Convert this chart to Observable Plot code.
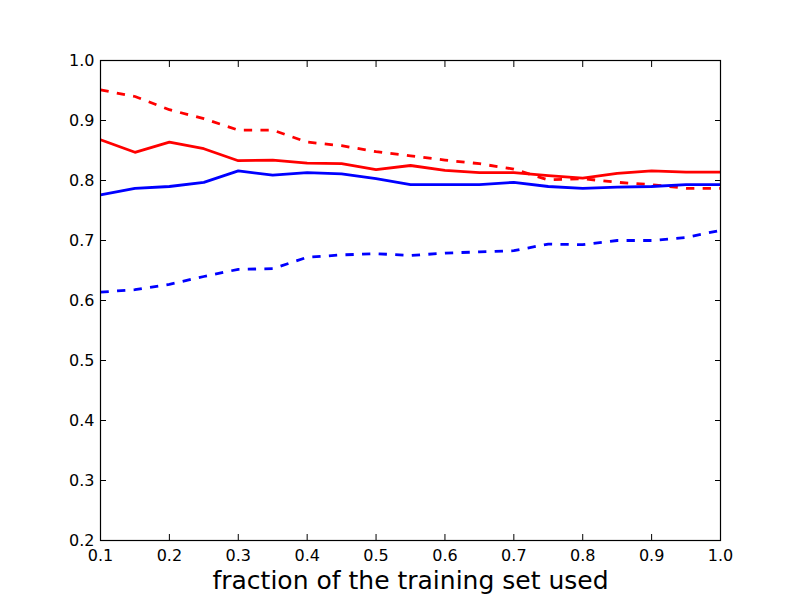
<!DOCTYPE html>
<html>
<head>
<meta charset="utf-8">
<script src="https://cdn.jsdelivr.net/npm/d3@7"></script>
<script src="https://cdn.jsdelivr.net/npm/@observablehq/plot@0.6"></script>
<style>
  html, body { margin: 0; padding: 0; background: #fff; }
  svg { display: block; }
</style>
</head>
<body>
<div id="chart"></div>
<script>
const fractions = [0.1, 0.15, 0.2, 0.25, 0.3, 0.35, 0.4, 0.45, 0.5, 0.55, 0.6, 0.65, 0.7, 0.75, 0.8, 0.85, 0.9, 0.95, 1.0];
const redDashed = [0.951, 0.940, 0.918, 0.903, 0.884, 0.884, 0.864, 0.858, 0.848, 0.841, 0.834, 0.828, 0.819, 0.801, 0.803, 0.797, 0.793, 0.787, 0.787];
const redSolid = [0.868, 0.847, 0.864, 0.853, 0.833, 0.834, 0.829, 0.828, 0.818, 0.825, 0.817, 0.813, 0.813, 0.808, 0.804, 0.812, 0.816, 0.814, 0.814];
const blueSolid = [0.776, 0.787, 0.790, 0.797, 0.816, 0.809, 0.813, 0.811, 0.803, 0.793, 0.793, 0.793, 0.797, 0.790, 0.787, 0.789, 0.790, 0.793, 0.793];
const blueDashed = [0.614, 0.618, 0.627, 0.640, 0.652, 0.653, 0.672, 0.676, 0.678, 0.675, 0.679, 0.681, 0.683, 0.694, 0.693, 0.700, 0.700, 0.705, 0.717];
const xTicks = [0.1, 0.2, 0.3, 0.4, 0.5, 0.6, 0.7, 0.8, 0.9, 1.0];
const yTicks = [0.2, 0.3, 0.4, 0.5, 0.6, 0.7, 0.8, 0.9, 1.0];
const xLabel = "fraction of the training set used";

const series = [
  {name: "redDashed", values: redDashed, color: "#ff0000", dash: "8.3,8.3"},
  {name: "redSolid", values: redSolid, color: "#ff0000", dash: null},
  {name: "blueSolid", values: blueSolid, color: "#0000ff", dash: null},
  {name: "blueDashed", values: blueDashed, color: "#0000ff", dash: "8.3,8.3"}
];

const fmt = d3.format(".1f");
const tickLen = 6;
const tickFont = 16;

const chart = Plot.plot({
  width: 800,
  height: 600,
  marginLeft: 100,
  marginRight: 80,
  marginTop: 60,
  marginBottom: 60,
  style: {fontFamily: "'DejaVu Sans'", fontSize: "16px", color: "black", background: "white"},
  x: {domain: [0.1, 1.0]},
  y: {domain: [0.2, 1.0]},
  marks: [
    ...series.map(s => Plot.line(s.values.map((v, i) => ({x: fractions[i], y: v})), {
      x: "x", y: "y", stroke: s.color, strokeWidth: 2.8, strokeDasharray: s.dash, strokeLinejoin: "round", strokeLinecap: "butt"
    })),
    Plot.frame({stroke: "black", strokeWidth: 1.2}),
    Plot.axisX(xTicks, {anchor: "bottom", tickSize: -tickLen, tickPadding: tickLen + 9, tickFormat: fmt, label: null, fontSize: tickFont, stroke: "black"}),
    Plot.axisX(xTicks, {anchor: "top", tickSize: -tickLen, tickFormat: () => "", label: null, stroke: "black"}),
    Plot.axisY(yTicks, {anchor: "left", tickSize: -tickLen, tickPadding: tickLen + 6, tickFormat: fmt, label: null, fontSize: tickFont, stroke: "black"}),
    Plot.axisY(yTicks, {anchor: "right", tickSize: -tickLen, tickFormat: () => "", label: null, stroke: "black"}),
    Plot.text([xLabel], {text: d => d, frameAnchor: "bottom", dy: 48, fontSize: 25, fill: "black"})
  ]
});
document.getElementById("chart").appendChild(chart);
</script>
</body>
</html>
